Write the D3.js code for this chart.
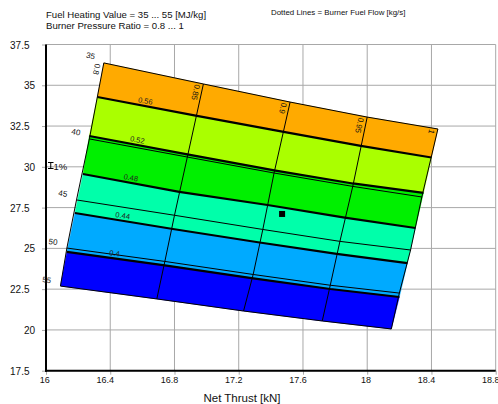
<!DOCTYPE html>
<html><head><meta charset="utf-8">
<script src="https://cdn.jsdelivr.net/npm/d3@7"></script>
<style>body{margin:0;background:#fff}svg{display:block;font-family:"Liberation Sans",Arial,sans-serif}</style>
</head><body><svg id="c" width="498" height="404"></svg>
<script>
// ---------- data ----------
const xTicks = [16, 16.4, 16.8, 17.2, 17.6, 18, 18.4, 18.8];
const yTicks = [17.5, 20, 22.5, 25, 27.5, 30, 32.5, 35, 37.5];

const heatingValues = [35, 40, 45, 50, 55];          // MJ/kg
const pressureRatios = [0.8, 0.85, 0.9, 0.95, 1];    // burner pressure ratio

// carpet nodes: one row per heating value, one entry per pressure ratio
const thrustHV35 = [16.36, 16.98, 17.52, 18.00, 18.44];
const thrustHV40 = [16.27, 16.88, 17.42, 17.91, 18.34];
const thrustHV45 = [16.19, 16.80, 17.35, 17.83, 18.27];
const thrustHV50 = [16.13, 16.74, 17.29, 17.77, 18.20];
const thrustHV55 = [16.09, 16.69, 17.23, 17.72, 18.15];
const valueHV35 = [36.37, 35.08, 33.97, 33.05, 32.32];
const valueHV40 = [31.71, 30.60, 29.62, 28.80, 28.15];
const valueHV45 = [27.97, 27.03, 26.16, 25.43, 24.90];
const valueHV50 = [25.02, 24.20, 23.40, 22.74, 22.26];
const valueHV55 = [22.69, 21.90, 21.16, 20.55, 20.06];

// burner fuel flow contours [kg/s]
const fuelFlowLevels = [0.56, 0.52, 0.48, 0.44, 0.4];
const fuelThrust056 = [16.32, 16.94, 17.48, 17.96, 18.40];
const fuelThrust052 = [16.27, 16.88, 17.43, 17.91, 18.35];
const fuelThrust048 = [16.23, 16.83, 17.38, 17.86, 18.30];
const fuelThrust044 = [16.18, 16.79, 17.33, 17.81, 18.25];
const fuelThrust040 = [16.13, 16.74, 17.28, 17.77, 18.20];
const fuelValue056 = [34.28, 33.12, 32.14, 31.28, 30.57];
const fuelValue052 = [31.89, 30.76, 29.77, 28.98, 28.40];
const fuelValue048 = [29.56, 28.46, 27.66, 26.89, 26.25];
const fuelValue044 = [27.17, 26.19, 25.36, 24.66, 24.10];
const fuelValue040 = [24.78, 23.96, 23.18, 22.51, 22.02];

const bandColors = ["#FFAA00", "#AAFF00", "#00F000", "#00FFAA", "#00AAFF", "#0000FF"];
const designPointThrust = [17.47];
const designPointValue = [27.11];

const titleLines = ["Fuel Heating Value = 35 ... 55 [MJ/kg]", "Burner Pressure Ratio = 0.8 ... 1"];
const noteText = "Dotted Lines = Burner Fuel Flow [kg/s]";
const xTitle = "Net Thrust [kN]";

// ---------- build ----------
const thrustRows = [thrustHV35, thrustHV40, thrustHV45, thrustHV50, thrustHV55];
const valueRows = [valueHV35, valueHV40, valueHV45, valueHV50, valueHV55];
const hvRows = thrustRows.map((r, i) => r.map((t, j) => [t, valueRows[i][j]]));
const prCols = pressureRatios.map((p, j) => hvRows.map(r => r[j]));
const fuelThrust = [fuelThrust056, fuelThrust052, fuelThrust048, fuelThrust044, fuelThrust040];
const fuelValue = [fuelValue056, fuelValue052, fuelValue048, fuelValue044, fuelValue040];
const contours = fuelThrust.map((r, i) => r.map((t, j) => [t, fuelValue[i][j]]));

const svg = d3.select("#c");
const x = d3.scaleLinear().domain([16, 18.8]).range([46, 495.7]);
const y = d3.scaleLinear().domain([17.5, 37.5]).range([370.7, 44.5]);
const line = d3.line().x(d => x(d[0])).y(d => y(d[1]));
const gridColor = "#a8a8a8";

// grid
svg.append("g").selectAll("line").data(xTicks).join("line")
  .attr("x1", d => x(d)).attr("x2", d => x(d))
  .attr("y1", y(37.5)).attr("y2", y(17.5))
  .attr("stroke", gridColor);
svg.append("g").selectAll("line").data(yTicks).join("line")
  .attr("x1", x(16)).attr("x2", x(18.8))
  .attr("y1", d => y(d)).attr("y2", d => y(d))
  .attr("stroke", gridColor);

// axes
const gx = svg.append("g").attr("transform", `translate(0,${y(17.5)})`)
  .call(d3.axisBottom(x).tickValues(xTicks).tickFormat(d3.format("")).tickSize(4));
gx.select(".domain").remove();
gx.selectAll(".tick line").attr("stroke", gridColor);
gx.selectAll(".tick text").attr("text-anchor", "end").attr("x", 3.3).attr("y", 12.6).attr("dy", null)
  .attr("font-size", 9).attr("fill", "#111").attr("font-family", "Liberation Sans, Arial, sans-serif");

const gy = svg.append("g").attr("transform", `translate(${x(16)},0)`)
  .call(d3.axisLeft(y).tickValues(yTicks).tickFormat(d3.format("")).tickSize(4));
gy.select(".domain").remove();
gy.selectAll(".tick line").attr("stroke", gridColor);
gy.selectAll(".tick text").attr("text-anchor", "end")
  .attr("x", d => Number.isInteger(d) ? -11 : -16.5).attr("dy", "0.35em")
  .attr("font-size", 10).attr("fill", "#111").attr("font-family", "Liberation Sans, Arial, sans-serif");

svg.append("line").attr("x1", x(16)).attr("x2", x(16)).attr("y1", y(37.5)).attr("y2", y(17.5) + 1)
  .attr("stroke", "#000").attr("stroke-width", 2);
svg.append("line").attr("x1", x(16) - 1).attr("x2", x(18.8)).attr("y1", y(17.5)).attr("y2", y(17.5))
  .attr("stroke", "#000").attr("stroke-width", 2);

// bands
const boundaries = [hvRows[0], ...contours, hvRows[hvRows.length - 1]];
svg.append("g").selectAll("path").data(bandColors).join("path")
  .attr("d", (c, i) => line(boundaries[i].concat(boundaries[i + 1].slice().reverse())) + "Z")
  .attr("fill", c => c).attr("stroke", c => c).attr("stroke-width", 0.5);

// carpet lines
svg.append("g").selectAll("path").data(hvRows).join("path")
  .attr("d", line).attr("fill", "none").attr("stroke", "#000").attr("stroke-width", 1);
svg.append("g").selectAll("path").data(prCols).join("path")
  .attr("d", line).attr("fill", "none").attr("stroke", "#000").attr("stroke-width", 1);
// fuel flow contours
svg.append("g").selectAll("path").data(contours).join("path")
  .attr("d", line).attr("fill", "none").attr("stroke", "#000").attr("stroke-width", 2.2);

const lblFont = "Liberation Sans, Arial, sans-serif";
function ang(a, b) { return Math.atan2(y(b[1]) - y(a[1]), x(b[0]) - x(a[0])) * 180 / Math.PI; }

// heating value labels
hvRows.forEach((r, i) => {
  const p = r[0], a = ang(r[0], r[1]);
  svg.append("text").attr("transform", `translate(${x(p[0])},${y(p[1])}) rotate(${a})`)
    .attr("x", -10).attr("y", -1.5).attr("text-anchor", "end")
    .attr("font-size", 8).attr("font-family", lblFont).attr("fill", "#111").text(heatingValues[i]);
});
// pressure ratio labels
prCols.forEach((c, j) => {
  const p = c[0], a = ang(c[0], c[c.length - 1]);
  svg.append("text").attr("transform", `translate(${x(p[0])},${y(p[1])}) rotate(${a})`)
    .attr("x", 2).attr("y", 8.5)
    .attr("font-size", 8).attr("font-family", lblFont).attr("fill", "#111").text(pressureRatios[j]);
});
// contour labels
contours.forEach((c, i) => {
  const a = ang(c[0], c[1]);
  const px0 = x(c[0][0]), py0 = y(c[0][1]), px1 = x(c[1][0]), py1 = y(c[1][1]);
  const px = px0 + 47, py = py0 + (py1 - py0) * (47 / (px1 - px0));
  svg.append("text").attr("transform", `translate(${px},${py}) rotate(${a})`)
    .attr("y", -2.5).attr("text-anchor", "middle")
    .attr("font-size", 7.5).attr("font-family", lblFont).attr("fill", "#222").text(fuelFlowLevels[i]);
});

// 1% scale marker
svg.append("path").attr("d", "M48,162.5H53.5M50.75,162.5V168.5M48,168.5H53.5")
  .attr("stroke", "#000").attr("stroke-width", 1).attr("fill", "none");
svg.append("text").attr("x", 53.5).attr("y", 169.5).attr("font-size", 9.5).attr("font-family", lblFont)
  .attr("fill", "#111").text("1%");

// design point
svg.append("g").selectAll("rect").data(designPointThrust).join("rect")
  .attr("x", (d, i) => x(d) - 3).attr("y", (d, i) => y(designPointValue[i]) - 3)
  .attr("width", 6).attr("height", 6).attr("fill", "#000");

// titles
svg.append("g").selectAll("text").data(titleLines).join("text")
  .attr("x", 46).attr("y", (d, i) => 17.5 + i * 11.6)
  .attr("font-size", 9.6).attr("font-family", lblFont).attr("fill", "#111").text(d => d);
svg.append("text").attr("x", 271).attr("y", 15).attr("font-size", 7.9).attr("font-family", lblFont)
  .attr("fill", "#111").text(noteText);
svg.append("text").attr("x", 242).attr("y", 402).attr("text-anchor", "middle")
  .attr("font-size", 11.5).attr("font-family", lblFont).attr("fill", "#111").text(xTitle);
</script></body></html>
